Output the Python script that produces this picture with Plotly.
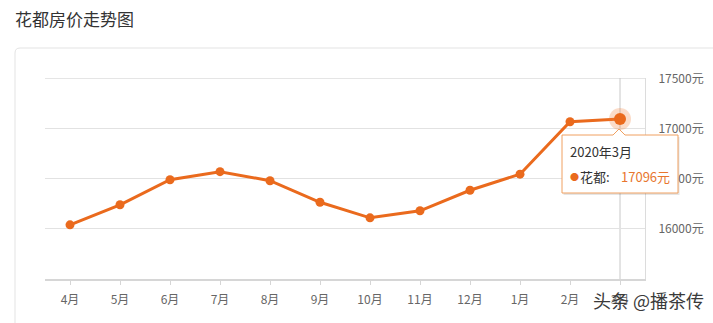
import plotly.graph_objects as go

# ---- data ----
months = ["4月", "5月", "6月", "7月", "8月", "9月", "10月", "11月", "12月", "1月", "2月", "3月"]
prices = [16040, 16240, 16490, 16570, 16480, 16265, 16110, 16180, 16385, 16545, 17068, 17096]
y_ticks = [16000, 16500, 17000, 17500]
y_tick_text = [f"{v}元" for v in y_ticks]
title_text = "花都房价走势图"
series_name = "花都"
tip_label = "2020年3月"
watermark = "头条 @播茶传"

W, H = 713, 323
L, R, T, B = 45, 645, 78, 279

def px(x):
    return (x - L) / (R - L)

def py(y):
    return (B - y) / (B - T)

ORANGE = "#ea6a1d"
FONT = "Noto Sans CJK SC"

fig = go.Figure()

fig.add_trace(go.Scatter(
    x=months, y=prices, mode="lines+markers",
    line=dict(color=ORANGE, width=3),
    marker=dict(color=ORANGE, size=9),
    hoverinfo="skip", showlegend=False,
))
# highlighted last point (halo + dot)
fig.add_trace(go.Scatter(
    x=months[-1:], y=prices[-1:], mode="markers",
    marker=dict(color="rgba(240,130,60,0.28)", size=22),
    hoverinfo="skip", showlegend=False,
))
fig.add_trace(go.Scatter(
    x=months[-1:], y=prices[-1:], mode="markers",
    marker=dict(color=ORANGE, size=12),
    hoverinfo="skip", showlegend=False,
))

shapes = []
# card border
r = 5
x0, y0, x1, y1 = 15, 48, 730, 340
card = (f"M {px(x0+r)},{py(y0)} L {px(x1)},{py(y0)} L {px(x1)},{py(y1)} "
        f"L {px(x0)},{py(y1)} L {px(x0)},{py(y0+r)} Q {px(x0)},{py(y0)} {px(x0+r)},{py(y0)} Z")
shapes.append(dict(type="path", xref="paper", yref="paper", path=card,
                   line=dict(color="#e3e3e3", width=1), layer="below"))
# top grid line (ensure it is drawn at the range edge)
shapes.append(dict(type="line", xref="paper", yref="y", x0=0, x1=1,
                   y0=y_ticks[-1], y1=y_ticks[-1], line=dict(color="#e2e2e2", width=1), layer="below"))
# axis pointer line
shapes.append(dict(type="line", xref="x", yref="paper", x0=months[-1], x1=months[-1],
                   y0=0, y1=1, line=dict(color="#c8c8c8", width=1), layer="below"))

# tooltip
bx0, by0, bx1, by1 = 562, 135, 678, 193
cx = 619
def tip_path(dx=0, dy=0):
    pts = [(bx0, by0), (cx - 6, by0), (cx, by0 - 6), (cx + 6, by0), (bx1, by0), (bx1, by1), (bx0, by1)]
    s = " L ".join(f"{px(a+dx)},{py(b+dy)}" for a, b in pts)
    return "M " + s + " Z"
shapes.append(dict(type="path", xref="paper", yref="paper", path=tip_path(1.5, 2),
                   fillcolor="rgba(0,0,0,0.10)", line=dict(width=0), layer="above"))
shapes.append(dict(type="path", xref="paper", yref="paper", path=tip_path(),
                   fillcolor="white", line=dict(color="#f0a060", width=1), layer="above"))

annotations = [
    dict(text=title_text, xref="paper", yref="paper", x=px(13), y=py(18),
         xanchor="left", yanchor="middle", showarrow=False,
         font=dict(family=FONT, size=17, color="#333333")),
    dict(text=tip_label, xref="paper", yref="paper", x=px(568), y=py(151),
         xanchor="left", yanchor="middle", showarrow=False,
         font=dict(family=FONT, size=13, color="#333333")),
    dict(text="●", xref="paper", yref="paper", x=px(568), y=py(176),
         xanchor="left", yanchor="middle", showarrow=False,
         font=dict(family=FONT, size=9, color=ORANGE)),
    dict(text=series_name + ":", xref="paper", yref="paper", x=px(578), y=py(176),
         xanchor="left", yanchor="middle", showarrow=False,
         font=dict(family=FONT, size=13, color="#333333")),
    dict(text=f"{prices[-1]}元", xref="paper", yref="paper", x=px(619), y=py(176),
         xanchor="left", yanchor="middle", showarrow=False,
         font=dict(family=FONT, size=13, color="#e8762e")),
    dict(text=watermark, xref="paper", yref="paper", x=px(706), y=py(300),
         xanchor="right", yanchor="middle", showarrow=False,
         font=dict(family=FONT, size=18, color="#3a3a3a")),
]

fig.update_layout(
    width=W, height=H,
    margin=dict(l=L, r=W - R, t=T, b=H - B, pad=0, autoexpand=False),
    paper_bgcolor="white", plot_bgcolor="white",
    font=dict(family=FONT, color="#666666"),
    shapes=shapes, annotations=annotations,
    xaxis=dict(
        type="category", categoryorder="array", categoryarray=months,
        range=[-0.5, len(months) - 0.5], automargin=False,
        showgrid=False, zeroline=False,
        showline=True, linecolor="#d6d6d6", linewidth=2,
        ticks="outside", ticklen=4, tickcolor="#d6d6d6", tickwidth=1,
        tickfont=dict(family=FONT, size=12, color="#666666"),
        ticklabelstandoff=5,
    ),
    yaxis=dict(
        side="right", range=[15500, 17504], automargin=False,
        tickmode="array", tickvals=y_ticks, ticktext=y_tick_text,
        showgrid=True, gridcolor="#e2e2e2", gridwidth=1,
        zeroline=False, showline=True, linecolor="#dcdcdc", linewidth=1,
        ticks="", tickfont=dict(family=FONT, size=12, color="#666666"),
        ticklabelstandoff=10,
    ),
)

fig.write_html("out.html")
